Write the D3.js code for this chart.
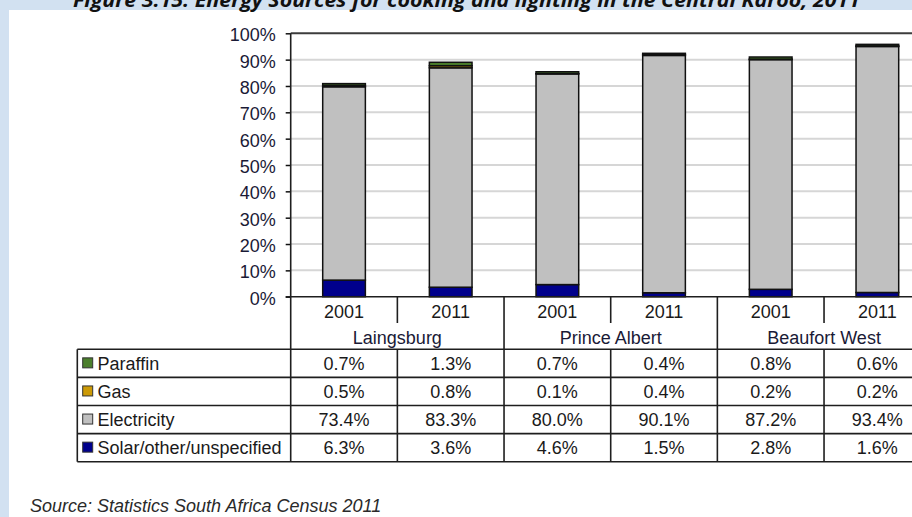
<!DOCTYPE html>
<html lang="en">
  <head>
    <title>Energy sources, Central Karoo</title>
    <script src="https://d3js.org/d3.v7.min.js"></script>
    <style>
      body { margin: 0; background: #d2e1f1; }
      text { font-family: 'Liberation Sans', Arial, sans-serif; }
    </style>
  </head>
  <body>
    <div id="chart"></div>
    <script>
      // data
      let towns = ['Laingsburg', 'Prince Albert', 'Beaufort West'];
      let years = ['2001', '2011'];
      let paraffin    = [0.7, 1.3, 0.7, 0.4, 0.8, 0.6];
      let gas         = [0.5, 0.8, 0.1, 0.4, 0.2, 0.2];
      let electricity = [73.4, 83.3, 80.0, 90.1, 87.2, 93.4];
      let solar       = [6.3, 3.6, 4.6, 1.5, 2.8, 1.6];
      let yTicks = [0, 10, 20, 30, 40, 50, 60, 70, 80, 90, 100];

      let keys = ['Paraffin', 'Gas', 'Electricity', 'Solar/other/unspecified'];
      let colors = {
        'Paraffin': '#4b7f2c',
        'Gas': '#cc9a06',
        'Electricity': '#c0c0c0',
        'Solar/other/unspecified': '#00008c'
      };
      let values = {
        'Paraffin': paraffin,
        'Gas': gas,
        'Electricity': electricity,
        'Solar/other/unspecified': solar
      };

      // one row per column of the table (town x year)
      let cols = [];
      towns.forEach((t, ti) => years.forEach((yr, yi) => {
        let i = ti * 2 + yi;
        let row = {id: t + ' ' + yr, town: t, year: yr};
        keys.forEach(k => row[k] = values[k][i]);
        cols.push(row);
      }));

      let width = 912, height = 517;
      let svg = d3.select('#chart').append('svg')
        .attr('width', width)
        .attr('height', height)
        .style('display', 'block');

      // scanned page: pale blue surround, white sheet
      svg.append('rect').attr('width', width).attr('height', height).attr('fill', '#d2e1f1');
      svg.append('rect').attr('x', 9).attr('y', 10).attr('width', width).attr('height', height).attr('fill', '#fff');

      svg.append('text')
        .attr('x', 73).attr('y', 6.5)
        .attr('textLength', 787).attr('lengthAdjust', 'spacingAndGlyphs')
        .style('font-family', "'Open Sans', sans-serif")
        .style('font-weight', 'bold').style('font-style', 'italic')
        .attr('font-size', 20).attr('fill', '#111')
        .text('Figure 3.15:  Energy Sources for cooking and lighting in the Central Karoo, 2011');

      let plotLeft = 290.7, plotTop = 33.3, plotBottom = 296.7;
      let x = d3.scaleBand()
        .domain(cols.map(d => d.id))
        .range([plotLeft, plotLeft + 640])
        .paddingInner(0.6)
        .paddingOuter(0.3);
      let step = x.step();
      let y = d3.scaleLinear().domain([0, 100]).range([plotBottom, plotTop]);

      // gridlines
      svg.append('g').selectAll('line')
        .data(yTicks.filter(v => v > 0 && v < 100))
        .join('line')
        .attr('x1', plotLeft).attr('x2', width)
        .attr('y1', d => y(d)).attr('y2', d => y(d))
        .attr('stroke', '#d6d6d6').attr('stroke-width', 2);

      svg.append('line')
        .attr('x1', plotLeft).attr('x2', width)
        .attr('y1', y(100)).attr('y2', y(100))
        .attr('stroke', '#3c3c3c').attr('stroke-width', 2);

      // y axis
      let yAxis = d3.axisLeft(y)
        .tickValues(yTicks)
        .tickSize(5)
        .tickPadding(10)
        .tickFormat(d => d + '%');
      let ya = svg.append('g')
        .attr('transform', 'translate(' + plotLeft + ',0)')
        .call(yAxis);
      ya.select('.domain').remove();
      ya.selectAll('.tick line').attr('stroke', '#111').attr('stroke-width', 1.5);
      ya.selectAll('.tick text')
        .attr('font-size', 18)
        .attr('fill', '#1a1a36')
        .attr('dy', '0.42em')
        .style('font-family', "'Liberation Sans', Arial, sans-serif");

      // stacked bars, bottom to top
      let stack = d3.stack().keys(['Solar/other/unspecified', 'Electricity', 'Gas', 'Paraffin']);
      let layers = stack(cols);
      svg.append('g').selectAll('g')
        .data(layers)
        .join('g')
        .attr('fill', d => colors[d.key])
        .selectAll('rect')
        .data(d => d)
        .join('rect')
        .attr('x', d => x(d.data.id))
        .attr('width', x.bandwidth())
        .attr('y', d => y(d[1]))
        .attr('height', d => y(d[0]) - y(d[1]))
        .attr('stroke', '#111')
        .attr('stroke-width', 1.5);

      // data table
      let rowTop = 349.3, rowH = 28.1, tableLeft = 77.3;
      let rowY = i => rowTop + i * rowH;
      let lines = svg.append('g').attr('stroke', '#1e1e1e').attr('stroke-width', 1.6);

      lines.append('line').attr('x1', plotLeft - 5).attr('x2', width).attr('y1', plotBottom).attr('y2', plotBottom);
      lines.append('line').attr('x1', plotLeft).attr('x2', plotLeft).attr('y1', plotTop).attr('y2', rowY(4));
      d3.range(5).forEach(i => {
        lines.append('line').attr('x1', tableLeft).attr('x2', width)
          .attr('y1', rowY(i)).attr('y2', rowY(i));
      });
      lines.append('line').attr('x1', tableLeft).attr('x2', tableLeft).attr('y1', rowTop).attr('y2', rowY(4));
      d3.range(1, 7).forEach(i => {
        let xx = plotLeft + i * step;
        if (i % 2 === 0) {
          lines.append('line').attr('x1', xx).attr('x2', xx).attr('y1', plotBottom).attr('y2', rowY(4));
        } else {
          lines.append('line').attr('x1', xx).attr('x2', xx).attr('y1', plotBottom).attr('y2', 323);
          lines.append('line').attr('x1', xx).attr('x2', xx).attr('y1', rowTop).attr('y2', rowY(4));
        }
      });

      // year and town headers
      svg.append('g').selectAll('text')
        .data(cols)
        .join('text')
        .attr('x', d => x(d.id) + x.bandwidth() / 2)
        .attr('y', 318)
        .attr('text-anchor', 'middle')
        .attr('font-size', 18).attr('fill', '#1a1a1a')
        .text(d => d.year);

      svg.append('g').selectAll('text')
        .data(towns)
        .join('text')
        .attr('x', (d, i) => plotLeft + (i * 2 + 1) * step)
        .attr('y', 344)
        .attr('text-anchor', 'middle')
        .attr('font-size', 18).attr('fill', '#1a1a36')
        .text(d => d);

      // series rows with legend keys
      let fmt = d3.format('.1f');
      let rows = svg.append('g').selectAll('g')
        .data(keys)
        .join('g')
        .attr('transform', (d, i) => 'translate(0,' + (rowY(i) + rowH / 2) + ')');

      rows.append('rect')
        .attr('x', 82.7).attr('y', -5.5)
        .attr('width', 10).attr('height', 10)
        .attr('fill', d => colors[d])
        .attr('stroke', '#333').attr('stroke-width', 1);

      rows.append('text')
        .attr('x', 97.5).attr('y', 6.3)
        .attr('font-size', 18).attr('fill', '#1a1a1a')
        .text(d => d);

      rows.selectAll('text.val')
        .data(k => cols.map(c => ({id: c.id, v: c[k]})))
        .join('text')
        .attr('class', 'val')
        .attr('x', d => x(d.id) + x.bandwidth() / 2)
        .attr('y', 6.3)
        .attr('text-anchor', 'middle')
        .attr('font-size', 18).attr('fill', '#1a1a1a')
        .text(d => fmt(d.v) + '%');

      svg.append('text')
        .attr('x', 30).attr('y', 512)
        .attr('font-size', 18).style('font-style', 'italic')
        .attr('fill', '#2a2a2a')
        .text('Source: Statistics South Africa Census 2011');
    </script>
  </body>
</html>
